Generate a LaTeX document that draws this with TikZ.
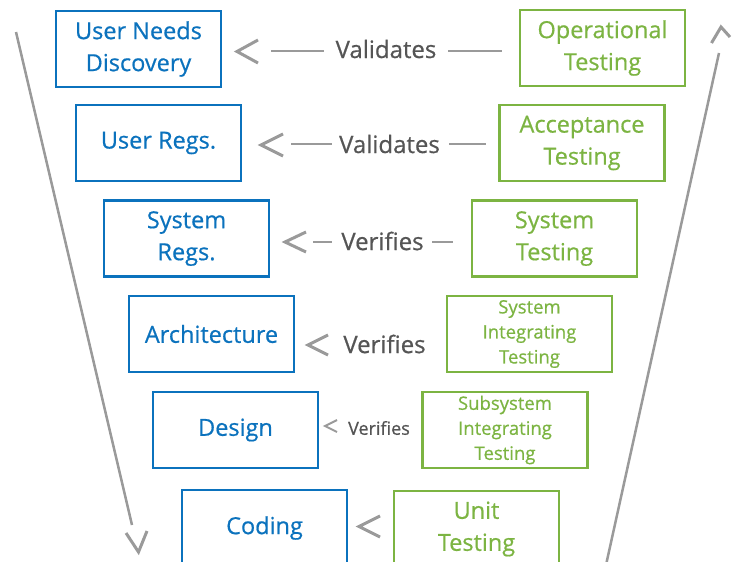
\documentclass[tikz,border=0pt]{standalone}
\usepackage{fontspec}
\setmainfont{Open Sans}[FakeBold=0.6]
\definecolor{vblue}{HTML}{0B72BD}
\definecolor{vgreen}{HTML}{7CB442}
\definecolor{lgray}{HTML}{9A9A9A}
\definecolor{tgray}{HTML}{555555}
\begin{document}
\begin{tikzpicture}[x=1pt,y=-1pt,
  box/.style={draw, line width=2.5pt, minimum width=165pt, minimum height=76pt, inner sep=0pt, align=center, font=\fontsize{23.5}{32}\selectfont},
  dev/.style={box, draw=vblue, text=vblue},
  tst/.style={box, draw=vgreen, text=vgreen},
  smalltxt/.style={font=\fontsize{18.5}{25}\selectfont},
  lbl/.style={text=tgray, font=\fontsize{24}{26}\selectfont, inner sep=0pt},
  lblsmall/.style={text=tgray, font=\fontsize{18}{20}\selectfont, inner sep=0pt},
  gline/.style={draw=lgray, line width=2pt},
  chev/.style={draw=lgray, line width=3pt, line join=miter},
  flow/.style={draw=lgray, line width=2.5pt}
]
\useasboundingbox (0,0) rectangle (736,562);
\clip (0,0) rectangle (736,562);

% development side
\node[dev] (und) at (138.5,49) {User Needs\\Discovery};
\node[dev] (ur)  at (158.5,143) {User Regs.};
\node[dev] (sr)  at (186.5,238.5) {System\\Regs.};
\node[dev] (ar)  at (211.5,334) {Architecture};
\node[dev] (de)  at (235.5,430) {Design};
\node[dev] (co)  at (264.5,528) {Coding};

% testing side
\node[tst] (ot)  at (602.5,48) {Operational\\Testing};
\node[tst] (at)  at (582,143) {Acceptance\\Testing};
\node[tst] (st)  at (554.5,238.5) {System\\Testing};
\node[tst,smalltxt] (sit)  at (529.5,334) {System\\Integrating\\Testing};
\node[tst,smalltxt] (ssit) at (505,430) {Subsystem\\Integrating\\Testing};
\node[tst] (ut)  at (476.5,529) {Unit\\Testing};

% labels
\node[lbl] (v1) at (386,49) {Validates};
\node[lbl] (v2) at (389.5,144) {Validates};
\node[lbl] (v3) at (382.5,241) {Verifies};
\node[lbl] (v4) at (384.5,344) {Verifies};
\node[lblsmall] (v5) at (379,428) {Verifies};

% dashes
\draw[gline] (271,51) -- (324,51);
\draw[gline] (448,51) -- (502,51);
\draw[gline] (291,144) -- (332,144);
\draw[gline] (449,144) -- (486,144);
\draw[gline] (313,242) -- (332,242);
\draw[gline] (432,242) -- (453,242);

% chevrons
\draw[chev] (258,40) -- (237,51.5) -- (258,63);
\draw[chev] (283,134) -- (261,145) -- (283,156);
\draw[chev] (306,232) -- (285,242) -- (306,252);
\draw[chev] (328,335) -- (308,345) -- (328,355);
\draw[chev,line width=2pt] (337,420) -- (325,426) -- (337,432);
\draw[chev] (380,516) -- (359,526.5) -- (380,537);

% flow arrows
\draw[flow] (16,32) -- (132,525);
\draw[chev] (126,533) -- (138.5,552) -- (147,531);
\draw[flow] (606,565) -- (719,53);
\draw[chev] (711.5,43) -- (721,27) -- (730,37);
\end{tikzpicture}
\end{document}
